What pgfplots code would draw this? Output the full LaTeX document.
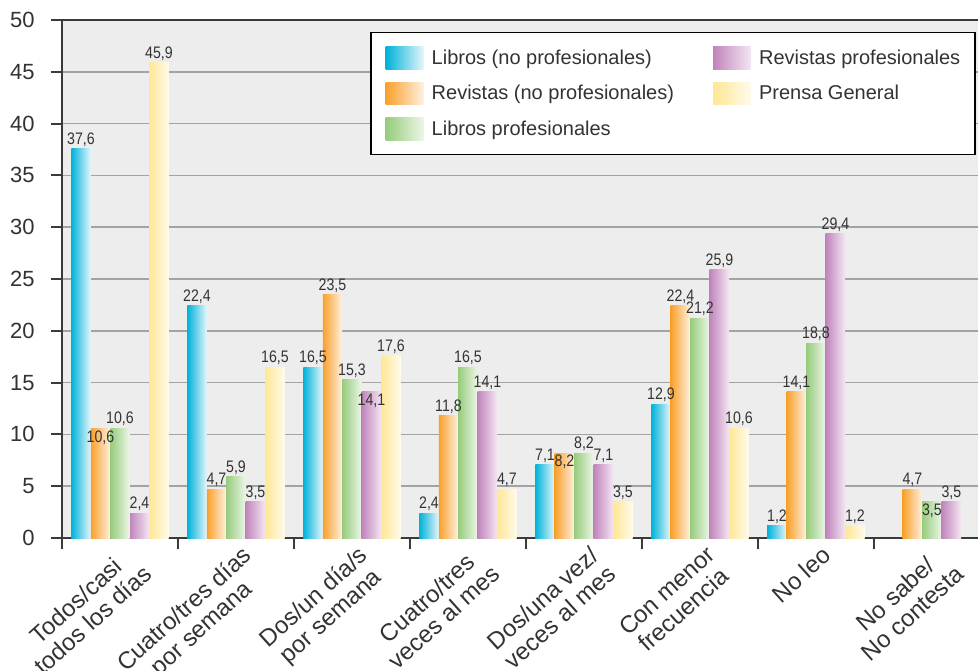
\documentclass[border=0pt]{standalone}
\usepackage{pgfplots}
\pgfplotsset{compat=1.18}
\usepackage{fontspec}
\setmainfont{Liberation Sans}
\usepackage{graphicx}

\definecolor{txt}{HTML}{333333}
\definecolor{axc}{HTML}{3A3A3A}
\definecolor{gridc}{HTML}{A3A3A3}
\definecolor{bgc}{HTML}{EDEDED}
\definecolor{c1L}{HTML}{00B2DA}\definecolor{c1R}{HTML}{E6F6FB}
\definecolor{c2L}{HTML}{F9A02C}\definecolor{c2R}{HTML}{FFF1E0}
\definecolor{c3L}{HTML}{96CC7C}\definecolor{c3R}{HTML}{EDF6E8}
\definecolor{c4L}{HTML}{C184BC}\definecolor{c4R}{HTML}{F3E7F2}
\definecolor{c5L}{HTML}{FFE794}\definecolor{c5R}{HTML}{FFFBEC}

\pgfplotsset{
  barbase/.style={ybar, bar width=0.168, draw=none,
    nodes near coords={\scalebox{0.85}[1]{\pgfmathprintnumber[fixed,fixed zerofill,precision=1,use comma]{\pgfplotspointmeta}}},
    every node near coord/.append style={shade=false, fill=none, draw=none, text=txt,
      font=\fontsize{12.5}{14}\selectfont, anchor=south, inner sep=1.5pt}},
  s1/.style={barbase, bar shift=-0.336, left color=c1L, right color=c1R,
    every node near coord/.append style={xshift=-29.23pt}},
  s2/.style={barbase, bar shift=-0.168, left color=c2L, right color=c2R,
    every node near coord/.append style={xshift=-14.62pt}},
  s3/.style={barbase, bar shift=0, left color=c3L, right color=c3R},
  s4/.style={barbase, bar shift=0.168, left color=c4L, right color=c4R,
    every node near coord/.append style={xshift=14.62pt}},
  s5/.style={barbase, bar shift=0.336, left color=c5L, right color=c5R,
    every node near coord/.append style={xshift=29.23pt}},
  inside/.style={every node near coord/.append style={anchor=north}},
}

\begin{document}
\begin{tikzpicture}
\begin{axis}[
  name=ax,
  scale only axis,
  width=689pt, height=388.5pt,
  xmin=-0.5, xmax=7.42, ymin=0, ymax=50,
  ytick={0,5,...,50},
  ymajorgrids,
  grid style={draw=gridc, line width=1.2pt},
  axis line style={draw=axc, line width=1.5pt},
  axis background/.style={fill=bgc},
  tick align=outside,
  ytick pos=left, xtick pos=left,
  major tick length=8.5pt,
  tick style={draw=axc, line width=1.5pt},
  xtick={-0.5,0.5,...,6.5},
  xticklabels={},
  extra x ticks={0,1,2,3,4,5,6,7},
  extra x tick labels={{Todos/casi\\todos los días},{Cuatro/tres días\\por semana},{Dos/un día/s\\por semana},{Cuatro/tres\\veces al mes},{Dos/una vez/\\veces al mes},{Con menor\\frecuencia},{No leo},{No sabe/\\No contesta}},
  extra x tick style={major tick length=0pt},
  xticklabel style={xshift=4pt, yshift=-2pt, rotate=42, anchor=north east, align=center, text=txt,
    font=\fontsize{18}{19}\selectfont, inner sep=2pt},
  yticklabel style={anchor=east, xshift=-8.5pt, text=txt, font=\fontsize{16.5}{18}\selectfont},
  /pgf/number format/assume math mode=true,
  legend columns=2,
  legend image code/.code={\path[#1, draw=none] (0pt,-8.5pt) rectangle (28.5pt,8.5pt); \path (34.5pt,0pt);},
  legend style={at={(0.9945,0.977)}, anchor=north east, fill=white, draw=black,
    line width=1pt, font=\fontsize{15}{17}\selectfont, text=txt,
    inner xsep=11pt, inner ysep=10.5pt, row sep=9.6pt, column sep=0pt,
    nodes={inner sep=0pt, anchor=west}},
]
% legend carriers (first bar of each series)
\addplot[s1] coordinates {(0,37.6)};
\addlegendentry{\makebox[211pt][l]{Libros (no profesionales)}}
\addplot[s4] coordinates {(0,2.4)};
\addlegendentry{Revistas profesionales}
\addplot[s2,inside] coordinates {(0,10.6)};
\addlegendentry{\makebox[211pt][l]{Revistas (no profesionales)}}
\addplot[s5] coordinates {(0,45.9)};
\addlegendentry{Prensa General}
\addplot[s3] coordinates {(0,10.6)};
\addlegendentry{\makebox[211pt][l]{Libros profesionales}}
% Libros (no profesionales)
\addplot[s1,forget plot] coordinates {(1,22.4)};
\addplot[s1,forget plot] coordinates {(2,16.5)};
\addplot[s1,forget plot] coordinates {(3,2.4)};
\addplot[s1,forget plot] coordinates {(4,7.1)};
\addplot[s1,forget plot] coordinates {(5,12.9)};
\addplot[s1,forget plot] coordinates {(6,1.2)};
% Revistas (no profesionales)
\addplot[s2,forget plot] coordinates {(1,4.7)};
\addplot[s2,forget plot] coordinates {(2,23.5)};
\addplot[s2,forget plot] coordinates {(3,11.8)};
\addplot[s2,inside,forget plot] coordinates {(4,8.2)};
\addplot[s2,forget plot] coordinates {(5,22.4)};
\addplot[s2,forget plot] coordinates {(6,14.1)};
\addplot[s2,forget plot] coordinates {(7,4.7)};
% Libros profesionales
\addplot[s3,forget plot] coordinates {(1,5.9)};
\addplot[s3,forget plot] coordinates {(2,15.3)};
\addplot[s3,forget plot] coordinates {(3,16.5)};
\addplot[s3,forget plot] coordinates {(4,8.2)};
\addplot[s3,forget plot] coordinates {(5,21.2)};
\addplot[s3,forget plot] coordinates {(6,18.8)};
\addplot[s3,inside,forget plot] coordinates {(7,3.5)};
% Revistas profesionales
\addplot[s4,forget plot] coordinates {(1,3.5)};
\addplot[s4,inside,forget plot] coordinates {(2,14.1)};
\addplot[s4,forget plot] coordinates {(3,14.1)};
\addplot[s4,forget plot] coordinates {(4,7.1)};
\addplot[s4,forget plot] coordinates {(5,25.9)};
\addplot[s4,forget plot] coordinates {(6,29.4)};
\addplot[s4,forget plot] coordinates {(7,3.5)};
% Prensa General
\addplot[s5,forget plot] coordinates {(1,16.5)};
\addplot[s5,forget plot] coordinates {(2,17.6)};
\addplot[s5,forget plot] coordinates {(3,4.7)};
\addplot[s5,forget plot] coordinates {(4,3.5)};
\addplot[s5,forget plot] coordinates {(5,10.6)};
\addplot[s5,forget plot] coordinates {(6,1.2)};
\end{axis}
\pgfresetboundingbox
\path[use as bounding box] (ax.south west) ++(-46.5pt,-99.75pt) rectangle ++(733.5pt,503.25pt);
\end{tikzpicture}
\end{document}
